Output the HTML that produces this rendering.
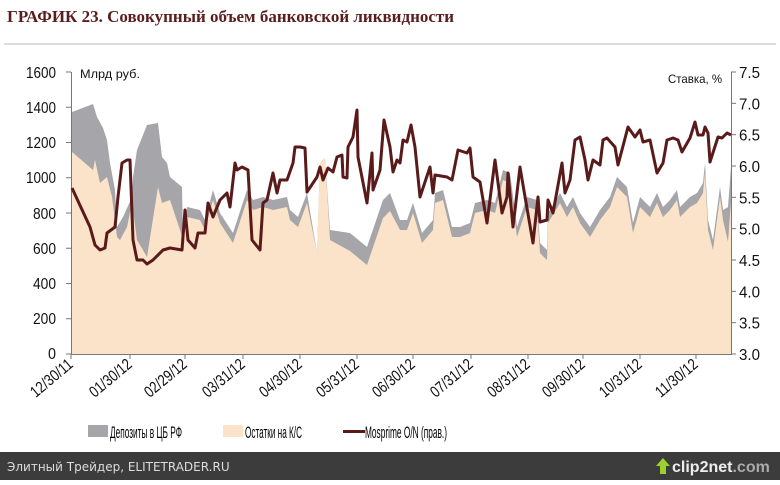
<!DOCTYPE html>
<html><head><meta charset="utf-8"><style>
body{margin:0;width:780px;height:480px;background:#fff;overflow:hidden;font-family:"Liberation Sans",sans-serif}
</style></head><body>
<svg width="780" height="480" xmlns="http://www.w3.org/2000/svg">
<text x="7" y="22" font-family="Liberation Serif,serif" font-weight="bold" font-size="17" fill="#5a1e1e">ГРАФИК 23. Совокупный объем банковской ликвидности</text>
<line x1="4" y1="44" x2="776" y2="44" stroke="#bbb" stroke-width="1"/>
<g id="plot"></g>
<g font-family="Liberation Sans,sans-serif" font-size="16" fill="#111" text-anchor="end">
<text x="56" y="78" textLength="30" lengthAdjust="spacingAndGlyphs">1600</text><text x="56" y="113" textLength="30" lengthAdjust="spacingAndGlyphs">1400</text><text x="56" y="148" textLength="30" lengthAdjust="spacingAndGlyphs">1200</text><text x="56" y="183" textLength="30" lengthAdjust="spacingAndGlyphs">1000</text><text x="56" y="219" textLength="23" lengthAdjust="spacingAndGlyphs">800</text><text x="56" y="254" textLength="23" lengthAdjust="spacingAndGlyphs">600</text><text x="56" y="289" textLength="23" lengthAdjust="spacingAndGlyphs">400</text><text x="56" y="324" textLength="23" lengthAdjust="spacingAndGlyphs">200</text><text x="56" y="359" textLength="8" lengthAdjust="spacingAndGlyphs">0</text>
</g>
<g id="ry" font-family="Liberation Sans,sans-serif" font-size="16" fill="#111"></g>
<text x="80" y="78" font-size="12" font-family="Liberation Sans,sans-serif" fill="#111" textLength="60" lengthAdjust="spacingAndGlyphs">Млрд руб.</text>
<text x="668" y="83" font-size="12" font-family="Liberation Sans,sans-serif" fill="#111" textLength="54" lengthAdjust="spacingAndGlyphs">Ставка, %</text>
<g id="xl" font-family="Liberation Sans,sans-serif" font-size="16" fill="#111" text-anchor="end"></g>
<rect x="88" y="425" width="20" height="12" fill="#a6a6aa"/>
<text x="110" y="438" font-size="17" textLength="72" lengthAdjust="spacingAndGlyphs">Депозиты в ЦБ РФ</text>
<rect x="223" y="425" width="20" height="12" fill="#fbe3c9"/>
<text x="245" y="438" font-size="17" textLength="57" lengthAdjust="spacingAndGlyphs">Остатки на К/С</text>
<rect x="343" y="430" width="22" height="3" fill="#5a1a1a"/>
<text x="365" y="438" font-size="17" textLength="82" lengthAdjust="spacingAndGlyphs">Mosprime O/N (прав.)</text>
<rect x="0" y="452" width="780" height="28" fill="#3c3c3c"/>
<text x="7" y="471" font-family="DejaVu Sans,sans-serif" font-size="12" fill="#ddd">Элитный Трейдер, ELITETRADER.RU</text>
<text x="672" y="472" font-family="Liberation Sans,sans-serif" font-weight="bold" font-size="16" fill="#eee">clip2net<tspan fill="#aaa">.com</tspan></text>
<path d="M660 474 v-8 h-4 l7 -8 l7 8 h-4 v8z" fill="#9bd12f"/>
</svg>
<script>
var G=[[72,112],[93,104],[97,117],[103,128],[107,140],[110,163],[115,190],[117,227],[123,217],[132,197],[133,177],[137,150],[147,125],[158,123],[162,157],[167,163],[170,177],[182,187],[183,237],[187,207],[200,210],[205,220],[213,190],[220,213],[233,233],[247,190],[253,200],[263,197],[273,200],[287,197],[290,210],[298,217],[307,193],[317,253],[320,163],[325,158],[330,230],[350,233],[367,247],[383,200],[390,193],[400,220],[407,220],[413,203],[422,233],[433,220],[435,193],[443,190],[452,227],[460,227],[470,223],[475,203],[487,200],[495,203],[503,170],[510,173],[517,227],[527,197],[537,200],[540,243],[547,250],[548,213],[560,193],[567,207],[573,197],[580,213],[590,227],[600,210],[610,197],[617,177],[627,187],[633,223],[640,197],[650,207],[657,193],[663,207],[670,200],[677,190],[680,207],[690,197],[697,193],[703,183],[705,163],[708,220],[713,240],[720,187],[723,210],[728,207],[731,167]];
var Bearly=[[72,152],[93,170],[95,160],[100,183],[107,177],[112,197],[117,237],[120,240],[127,227],[132,203],[137,240],[147,257],[158,187],[162,203],[170,200],[180,230],[183,240]];
var B=Bearly.slice();
G.forEach(function(p){if(p[0]>183){var off=(p[0]>315&&p[0]<328)?0:(p[0]<400&&p[0]>330?18:10);if(p[0]>=728)off=35;B.push([p[0],p[1]+off]);}});
var L=[[72,188],[90,227],[95,245],[100,250],[105,248],[107,233],[115,227],[118,197],[122,163],[127,160],[130,160],[133,240],[137,260],[143,260],[147,264],[153,260],[163,250],[170,248],[182,250],[185,210],[188,240],[195,248],[198,233],[205,233],[208,203],[213,217],[220,200],[227,193],[230,207],[235,163],[237,170],[242,167],[248,170],[252,240],[260,250],[263,203],[267,200],[273,173],[277,193],[280,180],[287,180],[293,163],[295,147],[300,147],[305,148],[307,192],[317,177],[320,167],[323,180],[328,168],[333,172],[337,157],[342,155],[343,177],[347,178],[348,147],[353,137],[357,110],[358,157],[367,203],[372,153],[373,190],[380,170],[384,120],[390,147],[393,172],[397,160],[400,163],[403,140],[407,142],[411,125],[415,147],[420,197],[430,167],[433,193],[435,175],[447,177],[452,180],[458,150],[467,153],[470,148],[473,177],[480,182],[487,223],[495,160],[502,213],[507,197],[508,173],[513,227],[520,167],[523,185],[533,243],[538,197],[540,222],[547,220],[548,200],[553,213],[562,163],[565,193],[570,180],[575,140],[580,137],[585,160],[588,180],[593,160],[600,165],[603,140],[607,138],[615,147],[618,165],[628,127],[635,137],[640,130],[643,142],[650,140],[657,173],[663,163],[667,140],[673,138],[678,140],[682,152],[690,138],[695,122],[698,135],[703,135],[705,127],[708,133],[710,162],[718,137],[722,138],[727,133],[731,135]];
function pts(a){return a.map(function(p){return p[0]+','+p[1]}).join(' ');}
var s='';
s+='<polygon points="72,354 '+pts(G)+' 731,354" fill="#a6a6aa"/>';
s+='<polygon points="72,354 '+pts(B)+' 731,354" fill="#fbe3c9"/>';
s+='<line x1="71.5" y1="72" x2="71.5" y2="354" stroke="#777"/><line x1="731.5" y1="72" x2="731.5" y2="354" stroke="#777"/><line x1="71" y1="354.5" x2="732" y2="354.5" stroke="#777"/>';
for(var i=0;i<9;i++){var y=72+i*282/8;s+='<line x1="66" x2="71" y1="'+y+'" y2="'+y+'" stroke="#777"/>';}
for(var i=0;i<10;i++){var y=72+i*282/9;s+='<line x1="731" x2="736" y1="'+y+'" y2="'+y+'" stroke="#777"/>';}
var xs=[71,130,185,243,300,357,413,471,528,583,640,696];
xs.forEach(function(x){s+='<line x1="'+x+'" x2="'+x+'" y1="354" y2="359" stroke="#777"/>';});
s+='<polyline points="'+pts(L)+'" fill="none" stroke="#5a1a1a" stroke-width="3" stroke-linejoin="round"/>';
document.getElementById('plot').innerHTML=s;
var r='',rv=['7.5','7.0','6.5','6.0','5.5','5.0','4.5','4.0','3.5','3.0'];
rv.forEach(function(v,i){var y=72+i*282/9+6;r+='<text x="739" y="'+y+'" textLength="21" lengthAdjust="spacingAndGlyphs">'+v+'</text>';});
document.getElementById('ry').innerHTML=r;
var lab=['12/30/11','01/30/12','02/29/12','03/31/12','04/30/12','05/31/12','06/30/12','07/31/12','08/31/12','09/30/12','10/31/12','11/30/12'];
var t='';xs.forEach(function(x,i){t+='<text transform="translate('+(x+3)+',366) rotate(-40)" textLength="50" lengthAdjust="spacingAndGlyphs">'+lab[i]+'</text>';});
document.getElementById('xl').innerHTML=t;
</script>
</body></html>
